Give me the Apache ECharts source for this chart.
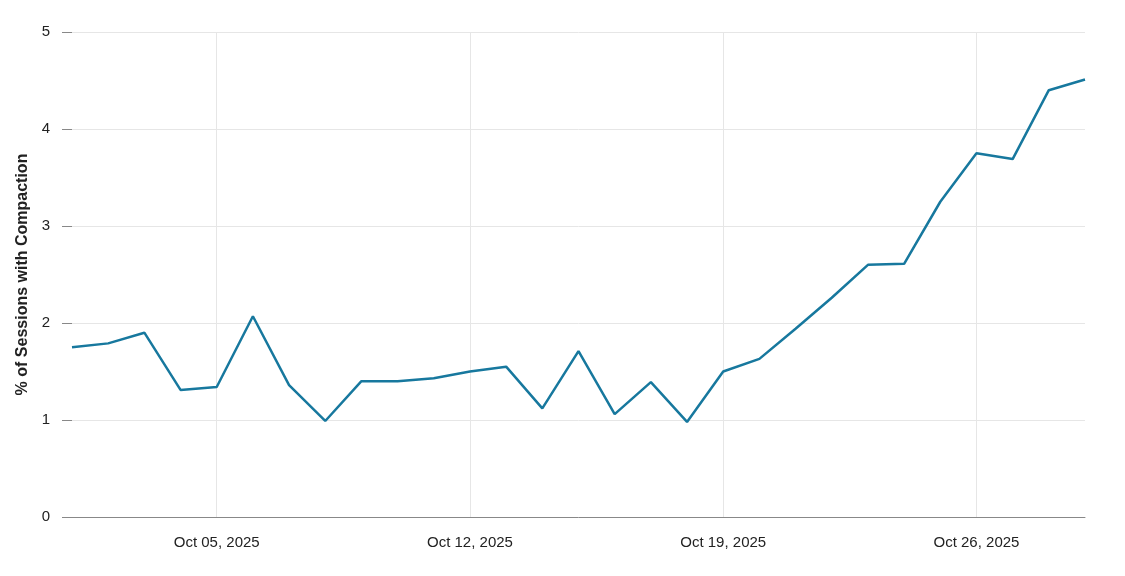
<!DOCTYPE html>
<html>
<head>
<meta charset="utf-8">
<script src="https://cdn.jsdelivr.net/npm/echarts@6/dist/echarts.min.js"></script>
<style>html,body{margin:0;padding:0;background:#fff}#chart{width:1125px;height:576px}</style>
</head>
<body>
<div id="chart"></div>
<script>
var dates = ["Oct 01, 2025","Oct 02, 2025","Oct 03, 2025","Oct 04, 2025","Oct 05, 2025","Oct 06, 2025","Oct 07, 2025",
  "Oct 08, 2025","Oct 09, 2025","Oct 10, 2025","Oct 11, 2025","Oct 12, 2025","Oct 13, 2025","Oct 14, 2025",
  "Oct 15, 2025","Oct 16, 2025","Oct 17, 2025","Oct 18, 2025","Oct 19, 2025","Oct 20, 2025","Oct 21, 2025",
  "Oct 22, 2025","Oct 23, 2025","Oct 24, 2025","Oct 25, 2025","Oct 26, 2025","Oct 27, 2025","Oct 28, 2025","Oct 29, 2025"];
var compaction = [1.75,1.79,1.90,1.31,1.34,2.07,1.36,0.99,1.40,1.40,1.43,1.50,1.55,1.12,1.71,1.06,1.39,0.98,
  1.50,1.63,1.94,2.26,2.60,2.61,3.25,3.75,3.69,4.40,4.51];
var shownTicks = [4, 11, 18, 25];

var myChart = echarts.init(document.getElementById('chart'));
var showTick = function (i) { return shownTicks.indexOf(i) >= 0; };
var option = {
    animation: false,
    grid: { left: 72, right: 40, top: 32, bottom: 59 },
    xAxis: {
        type: 'category',
        data: dates,
        boundaryGap: false,
        axisLine: { lineStyle: { color: '#888' } },
        axisTick: { show: false },
        axisLabel: { interval: showTick, color: '#222', fontSize: 15, margin: 18, fontFamily: 'Liberation Sans' },
        splitLine: { show: true, interval: showTick, lineStyle: { color: '#e6e6e6' } }
    },
    yAxis: {
        type: 'value',
        min: 0, max: 5, interval: 1,
        name: '% of Sessions with Compaction',
        nameLocation: 'middle',
        nameGap: 40,
        nameTextStyle: { fontSize: 16, fontWeight: 'bold', color: '#222', fontFamily: 'Liberation Sans' },
        axisLine: { show: false },
        axisTick: { show: true, length: 10, lineStyle: { color: '#888' } },
        axisLabel: { color: '#222', fontSize: 15, margin: 22, fontFamily: 'Liberation Sans' },
        splitLine: { lineStyle: { color: '#e6e6e6' } }
    },
    series: [{
        type: 'line',
        data: compaction,
        showSymbol: false,
        lineStyle: { color: '#17789e', width: 2.5 }
    }]
};
myChart.setOption(option);
</script>
</body>
</html>
